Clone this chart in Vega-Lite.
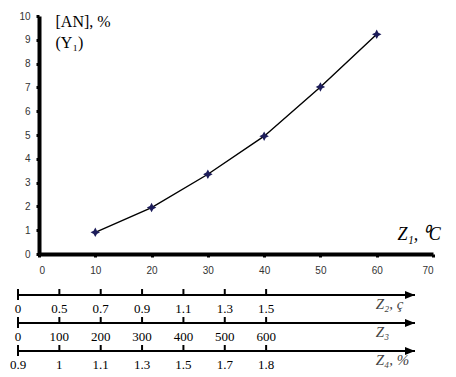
{
  "$schema": "https://vega.github.io/schema/vega-lite/v6.json",
  "width": 394,
  "height": 238,
  "autosize": {"type": "none"},
  "padding": {"left": 39, "top": 16, "right": 23, "bottom": 123},
  "background": "white",
  "config": {"view": {"stroke": null}, "axis": {"grid": false}},
  "datasets": {
    "curve": [
      {"z1": 10, "an": 0.91},
      {"z1": 20, "an": 1.95},
      {"z1": 30, "an": 3.35},
      {"z1": 40, "an": 4.95},
      {"z1": 50, "an": 7.02},
      {"z1": 60, "an": 9.23}
    ],
    "scaleTicks": [
      {"axis": "Z2", "i": 0, "label": "0"},
      {"axis": "Z2", "i": 1, "label": "0.5"},
      {"axis": "Z2", "i": 2, "label": "0.7"},
      {"axis": "Z2", "i": 3, "label": "0.9"},
      {"axis": "Z2", "i": 4, "label": "1.1"},
      {"axis": "Z2", "i": 5, "label": "1.3"},
      {"axis": "Z2", "i": 6, "label": "1.5"},
      {"axis": "Z3", "i": 0, "label": "0"},
      {"axis": "Z3", "i": 1, "label": "100"},
      {"axis": "Z3", "i": 2, "label": "200"},
      {"axis": "Z3", "i": 3, "label": "300"},
      {"axis": "Z3", "i": 4, "label": "400"},
      {"axis": "Z3", "i": 5, "label": "500"},
      {"axis": "Z3", "i": 6, "label": "600"},
      {"axis": "Z4", "i": 0, "label": "0.9"},
      {"axis": "Z4", "i": 1, "label": "1"},
      {"axis": "Z4", "i": 2, "label": "1.1"},
      {"axis": "Z4", "i": 3, "label": "1.3"},
      {"axis": "Z4", "i": 4, "label": "1.5"},
      {"axis": "Z4", "i": 5, "label": "1.7"},
      {"axis": "Z4", "i": 6, "label": "1.8"}
    ],
    "scaleAxes": [
      {"axis": "Z2", "title": "Z₂, ç"},
      {"axis": "Z3", "title": "Z₃"},
      {"axis": "Z4", "title": "Z₄, %"}
    ]
  },
  "layer": [
    {
      "data": {"name": "curve"},
      "encoding": {
        "x": {
          "field": "z1",
          "type": "quantitative",
          "scale": {"domain": [0, 70], "nice": false},
          "axis": {
            "values": [0, 10, 20, 30, 40, 50, 60, 70],
            "title": "Z₁, ⁰C",
            "titleFont": "Liberation Serif",
            "titleFontSize": 18,
            "titleFontWeight": "normal",
            "titleFontStyle": "italic",
            "titleColor": "black",
            "titleAnchor": null,
            "titleAlign": "left",
            "titleBaseline": "middle",
            "titleX": 358,
            "titleY": -20,
            "domainColor": "black",
            "domainWidth": 4,
            "tickColor": "black",
            "tickWidth": 3,
            "tickSize": 3,
            "labelFont": "Liberation Sans",
            "labelFontSize": 10,
            "labelColor": "#333",
            "labelPadding": 8
          }
        },
        "y": {
          "field": "an",
          "type": "quantitative",
          "scale": {"domain": [0, 10], "nice": false},
          "axis": {
            "values": [0, 1, 2, 3, 4, 5, 6, 7, 8, 9, 10],
            "title": ["[AN], %", "(Y₁)"],
            "titleFont": "Liberation Serif",
            "titleFontSize": 16,
            "titleFontWeight": "normal",
            "titleColor": "black",
            "titleAngle": 0,
            "titleAnchor": null,
            "titleAlign": "left",
            "titleBaseline": "top",
            "titleLineHeight": 21,
            "titleX": 16,
            "titleY": -3,
            "domainColor": "black",
            "domainWidth": 4,
            "tickColor": "black",
            "tickWidth": 3,
            "tickSize": 3,
            "labelFont": "Liberation Sans",
            "labelFontSize": 10,
            "labelColor": "#333",
            "labelPadding": 6
          }
        }
      },
      "layer": [
        {"mark": {"type": "line", "color": "black", "strokeWidth": 1.4}},
        {
          "mark": {
            "type": "point",
            "shape": "M0,-1L0.35,-0.35L1,0L0.35,0.35L0,1L-0.35,0.35L-1,0L-0.35,-0.35Z",
            "filled": true,
            "size": 90,
            "color": "#1d1d5a",
            "opacity": 1
          }
        }
      ]
    },
    {
      "layer": [
        {
          "data": {"name": "scaleAxes"},
          "mark": {"type": "rule", "color": "black", "strokeWidth": 2},
          "encoding": {
            "x": {"datum": 0, "type": "quantitative", "scale": {"domain": [0, 9.6], "range": [-21, 376], "nice": false, "zero": false}, "axis": null},
            "x2": {"datum": 9.6},
            "y": {"field": "axis", "type": "nominal", "scale": {"type": "point", "domain": ["Z2", "Z3", "Z4"], "range": [279, 335], "padding": 0}, "axis": null}
          }
        },
        {
          "data": {"name": "scaleAxes"},
          "mark": {
            "type": "point",
            "shape": "M-1,-0.8L1,0L-1,0.8Z",
            "filled": true,
            "size": 100,
            "color": "black",
            "opacity": 1,
            "xOffset": -5
          },
          "encoding": {
            "x": {"datum": 9.6, "type": "quantitative"},
            "y": {"field": "axis", "type": "nominal"}
          }
        },
        {
          "data": {"name": "scaleAxes"},
          "mark": {
            "type": "text",
            "align": "left",
            "baseline": "top",
            "dy": 2,
            "font": "Liberation Serif",
            "fontSize": 15,
            "fontStyle": "italic",
            "color": "#444"
          },
          "encoding": {
            "x": {"datum": 8.65, "type": "quantitative"},
            "y": {"field": "axis", "type": "nominal"},
            "text": {"field": "title"}
          }
        },
        {
          "data": {"name": "scaleTicks"},
          "mark": {"type": "tick", "orient": "vertical", "size": 6, "thickness": 2, "yOffset": -3, "color": "black", "opacity": 1},
          "encoding": {
            "x": {"field": "i", "type": "quantitative"},
            "y": {"field": "axis", "type": "nominal"}
          }
        },
        {
          "data": {"name": "scaleTicks"},
          "transform": [{"filter": "datum.i == 0"}],
          "mark": {"type": "tick", "orient": "vertical", "size": 10, "thickness": 2, "color": "black", "opacity": 1},
          "encoding": {
            "x": {"field": "i", "type": "quantitative"},
            "y": {"field": "axis", "type": "nominal"}
          }
        },
        {
          "data": {"name": "scaleTicks"},
          "mark": {
            "type": "text",
            "align": "center",
            "baseline": "middle",
            "dy": 14,
            "font": "Liberation Serif",
            "fontSize": 13,
            "color": "black"
          },
          "encoding": {
            "x": {"field": "i", "type": "quantitative"},
            "y": {"field": "axis", "type": "nominal"},
            "text": {"field": "label"}
          }
        }
      ]
    }
  ],
  "resolve": {"scale": {"x": "independent", "y": "independent"}}
}
